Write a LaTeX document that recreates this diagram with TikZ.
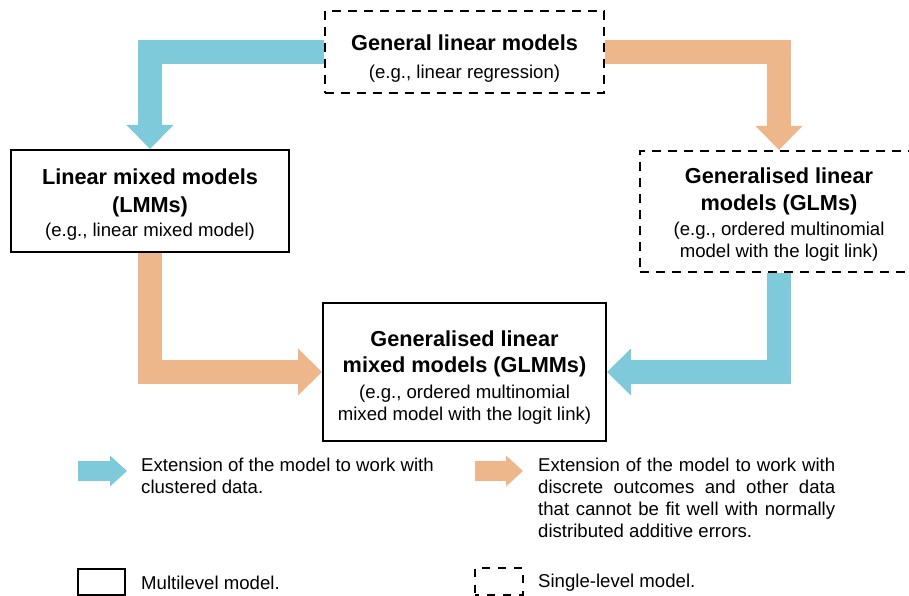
\documentclass[tikz,border=0pt]{standalone}
\usepackage{fontspec}
\setmainfont{Liberation Sans}
\usetikzlibrary{arrows.meta}
\definecolor{cblue}{HTML}{7ECADA}
\definecolor{corange}{HTML}{EDB78B}
\newcommand\ttlfont{\fontsize{21.7}{26}\selectfont\bfseries}
\newcommand\subfnt{\fontsize{18.6}{22}\selectfont}
\newcommand\topstrut[1]{\rule{0pt}{#1}}
\tikzset{
  box/.style={draw=black, line width=2pt, align=center, inner sep=0pt, font=\subfnt},
  solidbox/.style={box},
  dashbox/.style={box, dash pattern=on 9pt off 7pt},
  fatarrow/.style={line width=24pt, line join=miter, draw=#1,
    -{Triangle[length=24pt, width=47pt, line width=0pt, fill=#1]}},
  legarrow/.style={line width=20pt, draw=#1,
    -{Triangle[length=17pt, width=31pt, line width=0pt, fill=#1]}},
  legtext/.style={inner sep=0pt, font=\subfnt},
}
\begin{document}
\begin{tikzpicture}[x=1pt, y=-1pt]
\useasboundingbox (0,0) rectangle (909,596);

% model boxes
\node[dashbox, minimum width=279pt, minimum height=82pt] (glm) at (464.5,52)
  {\topstrut{28pt}{\ttlfont General linear models}\\[6pt](e.g., linear regression)};
\node[solidbox, minimum width=278pt, minimum height=102pt] (lmm) at (150,201)
  {\topstrut{22pt}{\ttlfont Linear mixed models}\\[6pt]{\ttlfont (LMMs)}\\[2pt](e.g., linear mixed model)};
\node[dashbox, minimum width=278pt, minimum height=121pt] (glms) at (779,211.5)
  {\topstrut{22pt}{\ttlfont Generalised linear}\\[5pt]{\ttlfont models (GLMs)}\\[3pt](e.g., ordered multinomial\\model with the logit link)};
\node[solidbox, minimum width=283pt, minimum height=138pt] (glmm) at (464.5,372)
  {\topstrut{26pt}{\ttlfont Generalised linear}\\[4pt]{\ttlfont mixed models (GLMMs)}\\[4pt](e.g., ordered multinomial\\mixed model with the logit link)};

% connectors
\draw[fatarrow=cblue] (glm.west) -| (lmm.north);
\draw[fatarrow=corange] (glm.east) -| (glms.north);
\draw[fatarrow=corange] (lmm.south) |- (glmm.west);
\draw[fatarrow=cblue] (glms.south) |- (glmm.east);

% legend
\coordinate (lba) at (78,471);
\coordinate (lbb) at (127,471);
\coordinate (loa) at (475,471);
\coordinate (lob) at (523,471);
\draw[legarrow=cblue] (lba) -- (lbb);
\draw[legarrow=corange] (loa) -- (lob);

\node[legtext, anchor=north west, align=left] (tblue) at (141,458)
  {Extension of the model to work with\\clustered data.};
\node[legtext, anchor=north west, text width=297pt, align=justify] (torange) at (538,458)
  {\hyphenpenalty=10000 Extension of the model to work with\linebreak discrete outcomes and other data\linebreak that cannot be fit well with normally\linebreak distributed additive errors.};

\node[draw=black, line width=2pt, minimum width=47pt, minimum height=26pt, inner sep=0pt] (lsolid) at (101.5,582) {};
\node[draw=black, line width=2pt, dash pattern=on 8pt off 8pt, dash phase=4pt, minimum width=48pt, minimum height=27pt, inner sep=0pt] (ldash) at (499,581.5) {};
\node[legtext, anchor=west] (tsolid) at (141,583) {Multilevel model.};
\node[legtext, anchor=west] (tdash) at (538,583) {Single-level model.};
\end{tikzpicture}
\end{document}
